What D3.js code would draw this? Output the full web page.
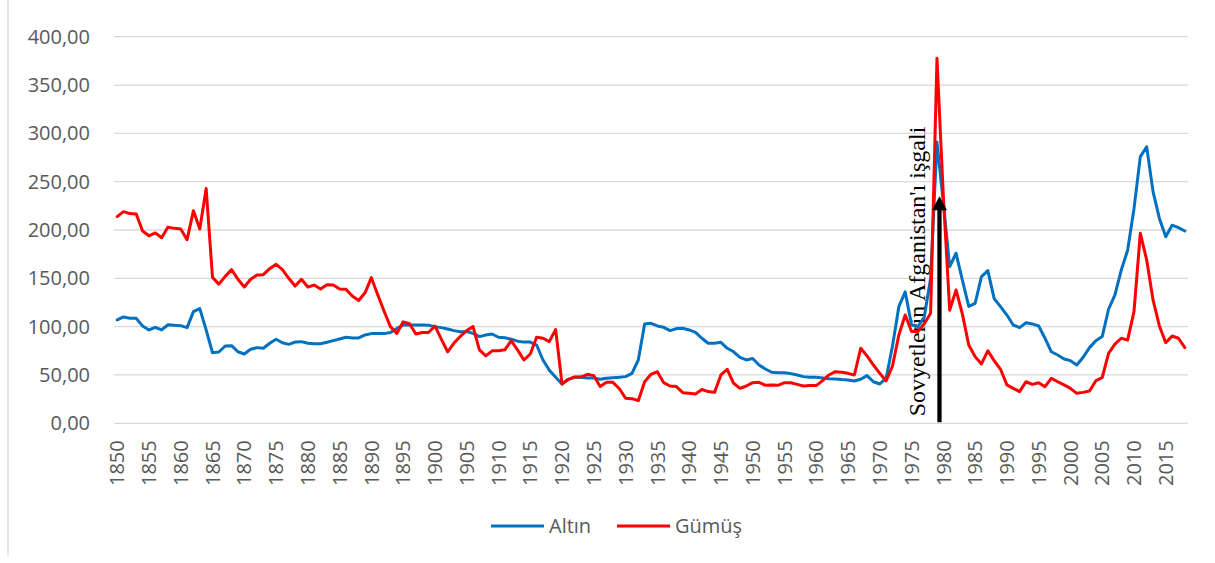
<!DOCTYPE html>
<html>
<head>
<meta charset="utf-8">
<script src="https://cdn.jsdelivr.net/npm/d3@7"></script>
<style>
  body { margin: 0; background: #fff; }
  svg { display: block; }
  .tick text { font-family: "Open Sans", sans-serif; font-size: 20px; fill: #595959; }
</style>
</head>
<body>
<div id="chart"></div>
<script>
// years 1850 - 2018
var years = d3.range(1850, 2019);

var altin = [
  107, 110, 108.6, 108.6, 100.7, 96.6, 99.3, 96.6, 102, 101.4,      // 1850
  101, 99, 115.5, 118.6, 96.6, 73, 73.8, 80, 80.3, 74,              // 1860
  71.7, 76.6, 78.3, 77.6, 82.8, 87, 83.4, 81.7, 84, 84.5,           // 1870
  82.8, 82.4, 82.4, 83.8, 85.5, 87.2, 89, 88.3, 88.3, 91.4,         // 1880
  92.8, 92.8, 92.8, 94, 98, 101.7, 101.7, 101.7, 101.7, 101.4,      // 1890
  100, 99, 97.6, 95.9, 94.8, 94.8, 93, 89.7, 91.4, 92.4,            // 1900
  89, 88.6, 87, 85, 84, 84, 81, 65.5, 55, 47.6,                     // 1910
  40.7, 45.5, 47.6, 47.6, 46.9, 46.9, 45.5, 46.6, 47.2, 47.6,       // 1920
  48.3, 51.7, 65.5, 102.8, 103.4, 100.7, 99.3, 95.9, 98, 98.3,      // 1930
  96.6, 94, 88, 82.8, 82.8, 83.8, 77.6, 74, 68.3, 65.5,             // 1940
  67, 60.3, 56.2, 52.8, 52.4, 52.4, 51.4, 50, 48.3, 47.6,           // 1950
  47.6, 46.9, 46.2, 45.9, 45.2, 44.8, 43.8, 45.5, 49.3, 43,         // 1960
  40.7, 46.6, 80, 120.7, 136, 101.7, 100, 110, 150, 291,            // 1970
  228, 162, 176, 148, 121, 124, 151.7, 158, 129, 120.7,             // 1980
  112, 101.7, 99, 104, 102.8, 100.7, 88, 74, 70.7, 66.6,            // 1990
  64.8, 60.3, 68.3, 78.3, 85.5, 89.7, 118, 132.8, 158.6, 179,       // 2000
  222, 275.9, 286, 239.7, 212, 193, 205, 202.4, 199                 // 2010
];

var gumus = [
  213.8, 219, 217, 216.6, 199, 194, 197, 192, 203, 201.7,           // 1850
  201, 190, 220, 201, 243, 151, 144, 152, 159, 149,                 // 1860
  141, 149, 153.4, 153.8, 160, 164.5, 159, 150, 142, 149,           // 1870
  141, 143, 139, 143.4, 143, 139, 138.6, 131.7, 127, 135,           // 1880
  150.7, 133, 116, 100, 93, 105, 103, 92.4, 94, 94,                 // 1890
  100.7, 87, 74, 83, 90, 96, 100, 76, 69.7, 75,                     // 1900
  75, 76, 85.5, 76, 65.5, 71.7, 89, 88, 84.5, 97,                   // 1910
  40.7, 45.5, 48, 48, 50.7, 49.3, 38, 42.4, 42.4, 36,               // 1920
  26, 25.5, 23.4, 43, 50.7, 53.4, 42, 38.6, 38, 31.7,               // 1930
  31, 30.3, 35, 32.8, 32, 50, 55.9, 41.4, 36.2, 38.6,               // 1940
  42, 42.4, 39.3, 39.7, 39.3, 42, 42, 40.3, 38.6, 39,               // 1950
  39, 44.1, 50, 53.4, 52.8, 51.7, 50, 77.6, 69.7, 60.3,             // 1960
  51.7, 43.8, 59.3, 91.4, 112, 95, 95, 103, 113.8, 377.6,           // 1970
  235, 117, 138, 113, 81, 69, 61.4, 75, 64.8, 55.9,                 // 1980
  39.7, 36.2, 32.8, 43, 40.3, 42, 37.9, 46.6, 43, 39.7,             // 1990
  36.2, 31, 32, 33.4, 44.1, 47.2, 72.4, 82, 88, 86,                 // 2000
  115.5, 196.6, 169, 127.6, 100.7, 83.4, 90.3, 88, 78.3             // 2010
];

var seriesNames = ["Altın", "Gümüş"];
var seriesColors = ["#0070C0", "#FF0000"];
var yTicks = [0, 50, 100, 150, 200, 250, 300, 350, 400];
var xTickYears = years.filter(function(y) { return (y - 1850) % 5 === 0; });
var noteYear = 1979;
var noteText = "Sovyetlerin Afganistan'ı işgali";

var svgWidth = 1215, svgHeight = 563;
var margin = { top: 36.7, right: 27, bottom: 139.7, left: 114 };
var width = svgWidth - margin.left - margin.right;
var height = svgHeight - margin.top - margin.bottom;

var svg = d3.select("#chart").append("svg").attr("width", svgWidth).attr("height", svgHeight);

// chart frame (only the left edge shows)
svg.append("line").attr("x1", 8).attr("x2", 8).attr("y1", 0).attr("y2", 556)
   .attr("stroke", "#d9d9d9").attr("stroke-width", 1.2);

var g = svg.append("g").attr("transform", `translate(${margin.left}, ${margin.top})`);

var x = d3.scaleBand().domain(years).range([0, width]).padding(0);
var y = d3.scaleLinear().domain([0, 400]).range([height, 0]);
var cx = function(yr) { return x(yr) + x.bandwidth() / 2; };

// gridlines
g.append("g").selectAll("line").data(yTicks).enter().append("line")
  .attr("x1", 0).attr("x2", width)
  .attr("y1", d => y(d)).attr("y2", d => y(d))
  .attr("stroke", "#d9d9d9").attr("stroke-width", 1.3);

// y axis labels
var yAxis = g.append("g").call(d3.axisLeft(y).tickValues(yTicks).tickSize(0).tickPadding(24)
  .tickFormat(d => d3.format(".2f")(d).replace(".", ",")));
yAxis.select(".domain").remove();

// x axis labels, rotated
var xAxis = g.append("g").attr("transform", `translate(0, ${height})`)
  .call(d3.axisBottom(x).tickValues(xTickYears).tickSize(0));
xAxis.select(".domain").remove();
xAxis.selectAll("text")
  .attr("transform", "translate(0, 17) rotate(-90)")
  .attr("x", 0).attr("y", 0).attr("dy", "0.36em")
  .style("text-anchor", "end");

// annotation text (under the lines)
g.append("text")
  .attr("transform", `translate(${cx(noteYear) - 12}, ${y(0) - 7}) rotate(-90)`)
  .style("font-family", "'Liberation Serif', 'Times New Roman', serif")
  .style("font-size", "24px").attr("fill", "#000")
  .text(noteText);

// lines
var line = d3.line().x((d, i) => cx(years[i])).y(d => y(d));
[altin, gumus].forEach(function(s, i) {
  g.append("path").datum(s)
    .attr("fill", "none").attr("stroke", seriesColors[i])
    .attr("stroke-width", 3).attr("stroke-linejoin", "round").attr("stroke-linecap", "round")
    .attr("d", line);
});

// arrow
var ax = cx(noteYear) + 2.5;
var tipY = y(235);
g.append("line").attr("x1", ax).attr("x2", ax).attr("y1", y(0) - 1).attr("y2", tipY + 12)
  .attr("stroke", "#000").attr("stroke-width", 4.3);
g.append("path")
  .attr("d", `M${ax},${tipY} L${ax + 7.5},${tipY + 14} L${ax - 7.5},${tipY + 14} Z`)
  .attr("fill", "#000");

// legend
var legend = svg.append("g").attr("transform", "translate(491, 526)");
var legX = [0, 126];
seriesNames.forEach(function(name, i) {
  var item = legend.append("g").attr("transform", `translate(${legX[i]}, 0)`);
  item.append("line").attr("x1", 0).attr("x2", 53).attr("y1", 0).attr("y2", 0)
    .attr("stroke", seriesColors[i]).attr("stroke-width", 3);
  item.append("text").attr("x", 58).attr("y", 0).attr("dy", "0.36em")
    .style("font-family", "'Open Sans', sans-serif").style("font-size", "20px")
    .attr("fill", "#595959").text(name);
});
</script>
</body>
</html>
